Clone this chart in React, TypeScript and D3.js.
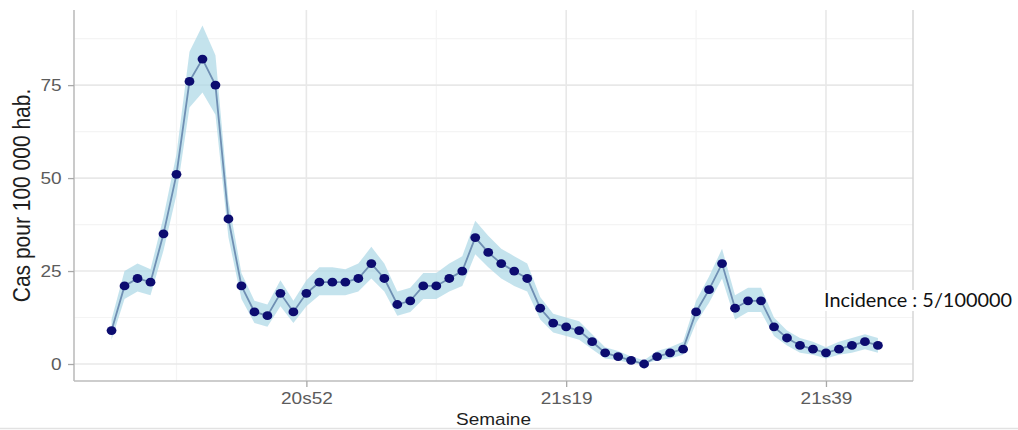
import React, { useEffect, useRef } from "react";
import * as d3 from "d3";

// semaines (20s37 -> 21s43)
const weeks = [
  "20s37", "20s38", "20s39", "20s40", "20s41", "20s42", "20s43", "20s44", "20s45", "20s46",
  "20s47", "20s48", "20s49", "20s50", "20s51", "20s52", "20s53", "21s01", "21s02", "21s03",
  "21s04", "21s05", "21s06", "21s07", "21s08", "21s09", "21s10", "21s11", "21s12", "21s13",
  "21s14", "21s15", "21s16", "21s17", "21s18", "21s19", "21s20", "21s21", "21s22", "21s23",
  "21s24", "21s25", "21s26", "21s27", "21s28", "21s29", "21s30", "21s31", "21s32", "21s33",
  "21s34", "21s35", "21s36", "21s37", "21s38", "21s39", "21s40", "21s41", "21s42", "21s43",
];

const rate = [
  9, 21, 23, 22, 35, 51, 76, 82, 75, 39,
  21, 14, 13, 19, 14, 19, 22, 22, 22, 23,
  27, 23, 16, 17, 21, 21, 23, 25, 34, 30,
  27, 25, 23, 15, 11, 10, 9, 6, 3, 2,
  1, 0, 2, 3, 4, 14, 20, 27, 15, 17,
  17, 10, 7, 5, 4, 3, 4, 5, 6, 5,
];

const lower = [
  6.5, 17.5, 19.5, 18.5, 30.5, 45.5, 69, 73, 67, 34,
  17.5, 11, 10, 15.5, 11, 15.5, 18.5, 18.5, 18.5, 19.5,
  23, 19.5, 13, 14, 17.5, 17.5, 19.5, 21, 29.5, 26,
  23, 21, 19.5, 12, 8.5, 7.5, 6.5, 4, 1.5, 1,
  0.2, 0, 1, 1.5, 2.5, 11, 16.5, 23, 12, 14,
  14, 7.5, 5, 3, 2.5, 1.5, 2.5, 3, 4, 3,
];

const upper = [
  12, 25, 27, 25.5, 39.5, 56.5, 84, 91, 83, 44,
  24.5, 17, 16, 22.5, 17, 22.5, 26, 26, 25.5, 27,
  31.5, 27, 19.5, 20.5, 24.5, 24.5, 27, 29, 38.5, 34.5,
  31, 29, 27, 18, 13.5, 12.5, 11.5, 8, 4.5, 3.5,
  2, 1, 3.5, 4.5, 6, 17, 23.5, 31, 18.5, 20.5,
  20.5, 12.5, 9, 7, 6, 4.5, 6, 7, 8, 7,
];

const yTicks = [0, 25, 50, 75];
const yMinor = [12.5, 37.5, 62.5, 87.5];
const xTickWeeks = ["20s52", "21s19", "21s39"];

const FONT = "'Liberation Sans', Arial, sans-serif";
const SX = 1.12; // l'image d'origine est un peu étirée en largeur

export default function App() {
  const ref = useRef<SVGSVGElement | null>(null);

  useEffect(() => {
    const svg = d3.select(ref.current);
    svg.selectAll("*").remove();

    const left = 74, right = 913, top = 10, bottom = 381;

    const x = d3.scaleLinear().domain([-2.89, 61.7]).range([left, right]);
    const y = d3.scaleLinear().domain([-4.57, 95.2]).range([bottom, top]);

    const idx = weeks.map((_, i) => i);
    const majorIdx = xTickWeeks.map((w) => weeks.indexOf(w));
    const minorIdx = [majorIdx[0] - 10, ...majorIdx.map((i) => i + 10)];

    // grille
    const grid = svg.append("g");
    grid.selectAll("line.ymin").data(yMinor).join("line")
      .attr("x1", left).attr("x2", right)
      .attr("y1", (d) => y(d)).attr("y2", (d) => y(d))
      .attr("stroke", "#f4f4f4").attr("stroke-width", 1.2);
    grid.selectAll("line.xmin").data(minorIdx.filter((i) => x(i) > left && x(i) < right)).join("line")
      .attr("y1", top).attr("y2", bottom)
      .attr("x1", (d) => x(d)).attr("x2", (d) => x(d))
      .attr("stroke", "#f4f4f4").attr("stroke-width", 1.2);
    grid.selectAll("line.ymaj").data(yTicks).join("line")
      .attr("x1", left).attr("x2", right)
      .attr("y1", (d) => y(d)).attr("y2", (d) => y(d))
      .attr("stroke", "#e8e8e8").attr("stroke-width", 1.6);
    grid.selectAll("line.xmaj").data(majorIdx).join("line")
      .attr("y1", top).attr("y2", bottom)
      .attr("x1", (d) => x(d)).attr("x2", (d) => x(d))
      .attr("stroke", "#e8e8e8").attr("stroke-width", 1.6);

    // cadre du panneau
    svg.append("line").attr("x1", right).attr("x2", right).attr("y1", top).attr("y2", bottom)
      .attr("stroke", "#d6d6d6").attr("stroke-width", 1.5);

    // intervalle de confiance
    const area = d3.area<number>()
      .x((i) => x(i))
      .y0((i) => y(lower[i]))
      .y1((i) => y(upper[i]));
    svg.append("path").datum(idx).attr("d", area)
      .attr("fill", "#add8e6").attr("opacity", 0.72);

    const line = d3.line<number>().x((i) => x(i)).y((i) => y(rate[i]));
    svg.append("path").datum(idx).attr("d", line)
      .attr("fill", "none").attr("stroke", "#6f8fb3").attr("stroke-width", 1.8);

    svg.append("g").selectAll("ellipse").data(idx).join("ellipse")
      .attr("cx", (i) => x(i)).attr("cy", (i) => y(rate[i]))
      .attr("rx", 4.9).attr("ry", 4.4)
      .attr("fill", "#0c0c70");

    // axes
    const yAxis = svg.append("g").attr("transform", `translate(${left},0)`)
      .call(d3.axisLeft(y).tickValues(yTicks).tickSize(6).tickPadding(5).tickSizeOuter(0));
    const xAxis = svg.append("g").attr("transform", `translate(0,${bottom})`)
      .call(d3.axisBottom(x).tickValues(majorIdx).tickFormat((d) => weeks[+d])
        .tickSize(6).tickPadding(5).tickSizeOuter(0));

    [yAxis, xAxis].forEach((ax) => {
      ax.select(".domain").attr("stroke", "#bdbdbd").attr("stroke-width", 1.6);
      ax.selectAll(".tick line").attr("stroke", "#a8a8a8").attr("stroke-width", 1.3);
      ax.selectAll(".tick text")
        .attr("fill", "#5c5c5c")
        .style("font-family", FONT)
        .style("font-size", "17px")
        .attr("transform", `scale(${SX},1)`);
    });
    yAxis.select(".domain").attr("d", `M0,${top}V${bottom}`);
    xAxis.select(".domain").attr("d", `M${left},0H${right}`);

    // titres
    svg.append("text")
      .attr("x", (left + right) / 2 / SX).attr("y", 425)
      .attr("transform", `scale(${SX},1)`)
      .attr("text-anchor", "middle")
      .style("font-family", FONT).style("font-size", "17px")
      .attr("fill", "#1e1e1e")
      .text("Semaine");

    svg.append("text")
      .attr("transform", `translate(29.5,${(top + bottom) / 2}) scale(${SX},1) rotate(-90)`)
      .attr("text-anchor", "middle")
      .style("font-family", FONT).style("font-size", "21px")
      .attr("fill", "#1e1e1e")
      .text("Cas pour 100 000 hab.");

    // annotation
    svg.append("rect").attr("x", 821).attr("y", 290).attr("width", 194).attr("height", 21).attr("fill", "#fff");
    svg.append("text")
      .attr("x", 824).attr("y", 307)
      .attr("textLength", 188).attr("lengthAdjust", "spacingAndGlyphs")
      .style("font-family", "Lato, 'Open Sans', sans-serif").style("font-size", "20px")
      .attr("fill", "#111")
      .text("Incidence : 5/100000");

    svg.append("line").attr("x1", 0).attr("x2", 1018).attr("y1", 428.5).attr("y2", 428.5)
      .attr("stroke", "#e2e2e2").attr("stroke-width", 1.5);
  }, []);

  return (
    <svg
      ref={ref}
      width={1018}
      height={430}
      style={{ position: "absolute", left: 0, top: 0, background: "#fff" }}
    />
  );
}
